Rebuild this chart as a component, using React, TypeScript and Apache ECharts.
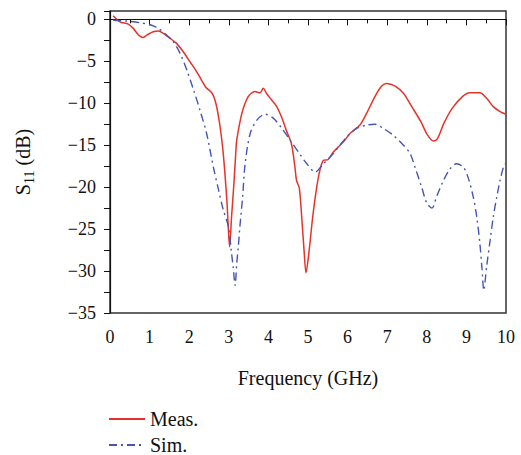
import React, { useEffect, useRef } from "react";
import * as echarts from "echarts";

const measFreq = [0.08, 0.25, 0.46, 0.59, 0.72, 0.83, 0.93, 1.09, 1.22, 1.35, 1.52, 1.68, 1.85, 2.02, 2.19, 2.31, 2.42, 2.57, 2.65, 2.71, 2.78, 2.86, 2.95, 2.99, 3.02, 3.07, 3.13, 3.18, 3.2, 3.33, 3.49, 3.66, 3.79, 3.87, 3.95, 4.08, 4.2, 4.33, 4.45, 4.58, 4.67, 4.71, 4.78, 4.84, 4.9, 4.95, 5.03, 5.12, 5.22, 5.3, 5.39, 5.51, 5.64, 5.81, 5.93, 6.06, 6.31, 6.48, 6.69, 6.86, 6.99, 7.2, 7.41, 7.62, 7.85, 8.02, 8.17, 8.27, 8.43, 8.64, 8.9, 9.09, 9.34, 9.51, 9.68, 9.85, 10.0];
const measDb = [0.43, -0.29, -0.56, -1.07, -1.87, -2.15, -1.87, -1.48, -1.39, -1.67, -2.27, -2.86, -3.86, -5.05, -6.25, -7.23, -8.1, -8.75, -9.6, -10.8, -12.8, -16.0, -21.5, -25.1, -27.1, -23.5, -19.5, -15.6, -14.4, -11.2, -9.2, -8.6, -8.75, -8.2, -8.8, -9.6, -10.3, -11.6, -13.2, -14.8, -17.6, -19.2, -20.1, -23.5, -27.5, -30.2, -27.5, -23.5, -20.0, -18.0, -16.8, -16.7, -15.8, -15.0, -14.4, -13.6, -12.6, -11.2, -9.2, -7.95, -7.63, -7.95, -8.8, -10.4, -12.2, -13.8, -14.5, -14.2, -12.4, -10.6, -9.2, -8.75, -8.75, -9.4, -10.4, -11.0, -11.3];

const simFreq = [0.08, 0.42, 0.76, 1.05, 1.22, 1.43, 1.6, 1.77, 1.94, 2.11, 2.27, 2.44, 2.61, 2.74, 2.86, 2.99, 3.07, 3.11, 3.16, 3.2, 3.24, 3.28, 3.35, 3.41, 3.54, 3.71, 3.92, 4.13, 4.34, 4.55, 4.8, 4.97, 5.18, 5.39, 5.64, 5.98, 6.23, 6.48, 6.69, 6.9, 7.15, 7.41, 7.58, 7.7, 7.87, 8.0, 8.13, 8.25, 8.42, 8.59, 8.75, 8.92, 9.04, 9.17, 9.26, 9.34, 9.39, 9.44, 9.51, 9.6, 9.68, 9.77, 9.85, 9.95, 10.0];
const simDb = [-0.1, -0.2, -0.4, -0.7, -1.07, -1.87, -2.67, -4.05, -6.04, -8.4, -10.8, -13.6, -17.6, -20.3, -22.7, -24.7, -27.9, -29.5, -31.7, -29.1, -27.1, -24.7, -21.1, -17.3, -13.6, -12.0, -11.3, -11.8, -13.0, -14.4, -16.1, -17.2, -18.2, -17.2, -16.0, -14.0, -13.0, -12.6, -12.5, -13.0, -13.8, -15.0, -16.0, -17.6, -20.0, -21.9, -22.5, -21.1, -19.2, -17.8, -17.2, -17.6, -18.8, -21.1, -23.5, -26.7, -29.5, -32.3, -29.5, -26.3, -23.5, -21.1, -19.2, -17.4, -17.2];

const xTicks = [0, 1, 2, 3, 4, 5, 6, 7, 8, 9, 10];
const yTicks = [0, -5, -10, -15, -20, -25, -30, -35];

const FONT = "Liberation Serif";

export default function App() {
  const ref = useRef<HTMLDivElement>(null);
  useEffect(() => {
    if (!ref.current) return;
    const chart = echarts.init(ref.current, null, { renderer: "svg" });
    const pair = (xs: number[], ys: number[]) => xs.map((x, i) => [x, ys[i]]);
    chart.setOption({
      animation: false,
      grid: {
        left: 110,
        right: 15,
        top: 11,
        bottom: 142,
        show: true,
        borderColor: "#333",
        borderWidth: 1.5,
      },
      legend: {
        orient: "vertical",
        left: 108,
        top: 409,
        height: 60,
        padding: 0,
        itemWidth: 36,
        itemHeight: 14,
        itemGap: 6,
        itemTextGap: 13,
        itemStyle: { opacity: 0 },
        textStyle: { fontFamily: FONT, fontSize: 20, color: "#111" },
        data: ["Meas.", "Sim."],
      },
      xAxis: {
        type: "value",
        min: 0,
        max: 10,
        interval: 1,
        name: "Frequency (GHz)",
        nameLocation: "middle",
        nameGap: 55,
        nameTextStyle: { fontFamily: FONT, fontSize: 20, color: "#111" },
        axisLine: { lineStyle: { color: "#111", width: 1.2 } },
        axisTick: { show: true, inside: false, length: 6, lineStyle: { color: "#111" } },
        minorTick: { show: true, splitNumber: 2, length: 4, lineStyle: { color: "#111" } },
        splitLine: { show: false },
        axisLabel: {
          fontFamily: FONT,
          fontSize: 18,
          color: "#111",
          margin: 15,
          formatter: (v: number) => (xTicks.includes(v) ? String(v) : ""),
        },
      },
      yAxis: {
        type: "value",
        min: -35,
        max: 1,
        interval: 5,
        name: "{a|S}{b|11}{a| (dB)}",
        nameLocation: "middle",
        nameGap: 74,
        nameRotate: 90,
        nameTextStyle: {
          fontFamily: FONT,
          color: "#111",
          rich: {
            a: { fontFamily: FONT, fontSize: 20, lineHeight: 26, color: "#111" },
            b: { fontFamily: FONT, fontSize: 14, lineHeight: 14, verticalAlign: "bottom", color: "#111" },
          },
        },
        axisLine: { lineStyle: { color: "#111", width: 1.2 } },
        axisTick: { show: true, inside: false, length: 6, lineStyle: { color: "#111" } },
        minorTick: { show: true, splitNumber: 2, length: 6, lineStyle: { color: "#111" } },
        splitLine: { show: false },
        axisLabel: {
          fontFamily: FONT,
          fontSize: 18,
          color: "#111",
          margin: 14,
          showMaxLabel: false,
          formatter: (v: number) => (yTicks.includes(v) ? String(v).replace("-", "\u2212") : ""),
        },
      },
      series: [
        {
          name: "Meas.",
          type: "line",
          data: pair(measFreq, measDb),
          showSymbol: false,
          symbol: "none",
          smooth: 0.3,
          lineStyle: { color: "#e5332a", width: 1.5 },
          itemStyle: { color: "#e5332a" },
        },
        {
          name: "Sim.",
          type: "line",
          data: pair(simFreq, simDb),
          showSymbol: false,
          symbol: "none",
          smooth: 0.3,
          lineStyle: { color: "#4655b5", width: 1.4, type: [8, 4, 2, 4] },
          itemStyle: { color: "#4655b5" },
        },
      ],
    });
    return () => chart.dispose();
  }, []);
  return <div ref={ref} style={{ width: 521, height: 455, position: "absolute", left: 0, top: 0 }} />;
}
